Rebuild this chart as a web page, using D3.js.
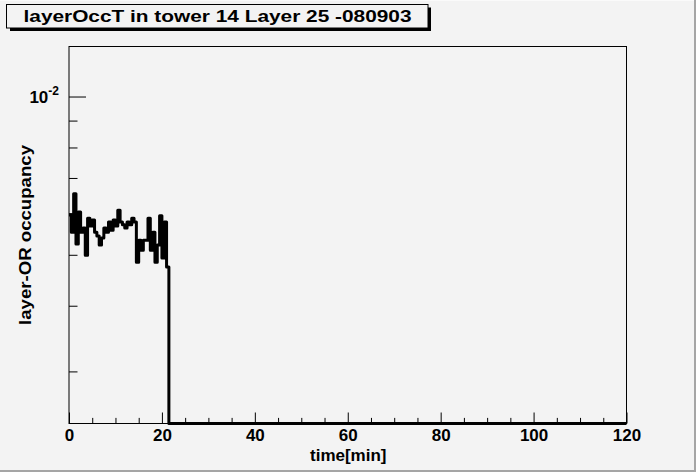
<!DOCTYPE html>
<html>
<head>
<meta charset="utf-8">
<script src="https://cdn.jsdelivr.net/npm/d3@7"></script>
<style>
  html, body { margin: 0; padding: 0; background: #f3f3f3; }
  svg { display: block; }
  text { font-family: "Liberation Sans", Arial, Helvetica, sans-serif; font-weight: bold; fill: #000; }
</style>
</head>
<body>
<div id="chart"></div>
<script>
"use strict";

// histogram: 0.5 min bins over 0..120 min, only the first 43 bins are filled
const binWidth = 0.5;
const xRange = [0, 120];
const occupancy = [
  0.00595, 0.00552, 0.00653, 0.00524, 0.00603, 0.00552, 0.00562, 0.00499,
  0.00587, 0.00567, 0.00582, 0.00552, 0.00543, 0.00522, 0.00538, 0.00562,
  0.00552, 0.00577, 0.00557, 0.00582, 0.00567, 0.00608, 0.00577, 0.00570,
  0.00562, 0.00577, 0.00570, 0.00587, 0.00577, 0.00484, 0.00533, 0.00510,
  0.00533, 0.00533, 0.00587, 0.00510, 0.00552, 0.00484, 0.00522, 0.00593,
  0.00493, 0.00577, 0.00474
];
const yRange = [0.002388, 0.01245];

const xMajor = [0, 20, 40, 60, 80, 100, 120];
const xMinor = d3.range(0, 121, 5).filter(d => d % 20 !== 0);
const yMajor = [0.01];
const yMinor = [0.009, 0.008, 0.007, 0.006, 0.005, 0.004, 0.003];

const titleText = "layerOccT in tower 14 Layer 25 -080903";
const xTitle = "time[min]";
const yTitle = "layer-OR occupancy";

const W = 696, H = 472;
const frame = { left: 69, right: 626.5, top: 46.5, bottom: 423.5 };

const svg = d3.select("#chart").append("svg")
  .attr("width", W).attr("height", H);

// canvas background with bevel
svg.append("rect").attr("width", W).attr("height", H).attr("fill", "#f3f3f3");
svg.append("line").attr("x1", 0).attr("x2", W).attr("y1", 0.5).attr("y2", 0.5)
  .attr("stroke", "#fafafa");
svg.append("rect").attr("x", W - 2).attr("y", 0).attr("width", 2).attr("height", H)
  .attr("fill", "#a5a5a5");
svg.append("rect").attr("x", 0).attr("y", H - 2).attr("width", W).attr("height", 2)
  .attr("fill", "#a5a5a5");

const x = d3.scaleLinear().domain(xRange).range([frame.left, frame.right]);
const y = d3.scaleLog().domain(yRange).range([frame.bottom, frame.top]);

// frame
svg.append("rect")
  .attr("x", frame.left).attr("y", frame.top)
  .attr("width", frame.right - frame.left).attr("height", frame.bottom - frame.top)
  .attr("fill", "none").attr("stroke", "#000").attr("stroke-width", 1);

// x axis, ticks pointing inside
const gx = svg.append("g").attr("transform", `translate(0,${frame.bottom})`);
gx.append("g")
  .call(d3.axisBottom(x).tickValues(xMinor).tickSize(-5.6).tickFormat(""))
  .call(g => g.select(".domain").remove());
gx.append("g")
  .call(d3.axisBottom(x).tickValues(xMajor).tickSize(-11).tickPadding(5).tickFormat(d3.format("d")))
  .call(g => g.select(".domain").remove())
  .call(g => g.selectAll("text").style("font-size", "17px")
    .attr("font-family", null));
gx.selectAll(".tick line").attr("stroke", "#000");

// y axis, log, ticks pointing inside
const gy = svg.append("g").attr("transform", `translate(${frame.left},0)`);
gy.append("g")
  .call(d3.axisLeft(y).tickValues(yMinor).tickSize(-8.5).tickFormat(""))
  .call(g => g.select(".domain").remove());
gy.append("g")
  .call(d3.axisLeft(y).tickValues(yMajor).tickSize(-17).tickFormat(""))
  .call(g => g.select(".domain").remove());
gy.selectAll(".tick line").attr("stroke", "#000");

// 10^-2 label
yMajor.forEach(v => {
  const t = svg.append("text")
    .attr("x", frame.left - 10).attr("y", y(v) + 6)
    .attr("text-anchor", "end")
    .style("font-size", "17px");
  t.append("tspan").text("10");
  t.append("tspan").attr("dy", -8).style("font-size", "12px").text("-" + Math.round(-Math.log10(v)));
});

// histogram line
const bins = d3.range((xRange[1] - xRange[0]) / binWidth).map(i => ({
  x0: xRange[0] + i * binWidth,
  v: i < occupancy.length ? occupancy[i] : 0
}));
bins.push({ x0: xRange[1], v: bins[bins.length - 1].v });

const line = d3.line()
  .x(d => x(d.x0))
  .y(d => d.v > 0 ? y(d.v) : frame.bottom)
  .curve(d3.curveStepAfter);

svg.append("path")
  .datum(bins)
  .attr("d", line)
  .attr("fill", "none")
  .attr("stroke", "#000")
  .attr("stroke-width", 3)
  .attr("stroke-linejoin", "round");

// axis titles
svg.append("text")
  .attr("x", (x(0) + x(120)) / 2 + 0.5).attr("y", 461)
  .attr("text-anchor", "middle")
  .style("font-size", "17px")
  .text(xTitle);

svg.append("text")
  .attr("transform", `translate(31,${(frame.top + frame.bottom) / 2}) rotate(-90)`)
  .attr("text-anchor", "middle")
  .attr("textLength", 180)
  .attr("lengthAdjust", "spacingAndGlyphs")
  .style("font-size", "16.5px")
  .text(yTitle);

// title box with shadow
svg.append("rect").attr("x", 10).attr("y", 7.5).attr("width", 421).attr("height", 23.5)
  .attr("fill", "#000");
svg.append("rect").attr("x", 6.5).attr("y", 4.5).attr("width", 421.5).attr("height", 23.5)
  .attr("fill", "#f3f3f3").attr("stroke", "#000").attr("stroke-width", 1);
svg.append("text")
  .attr("x", 217.5).attr("y", 22)
  .attr("text-anchor", "middle")
  .attr("textLength", 388)
  .attr("lengthAdjust", "spacingAndGlyphs")
  .style("font-size", "17px")
  .text(titleText);
</script>
</body>
</html>
